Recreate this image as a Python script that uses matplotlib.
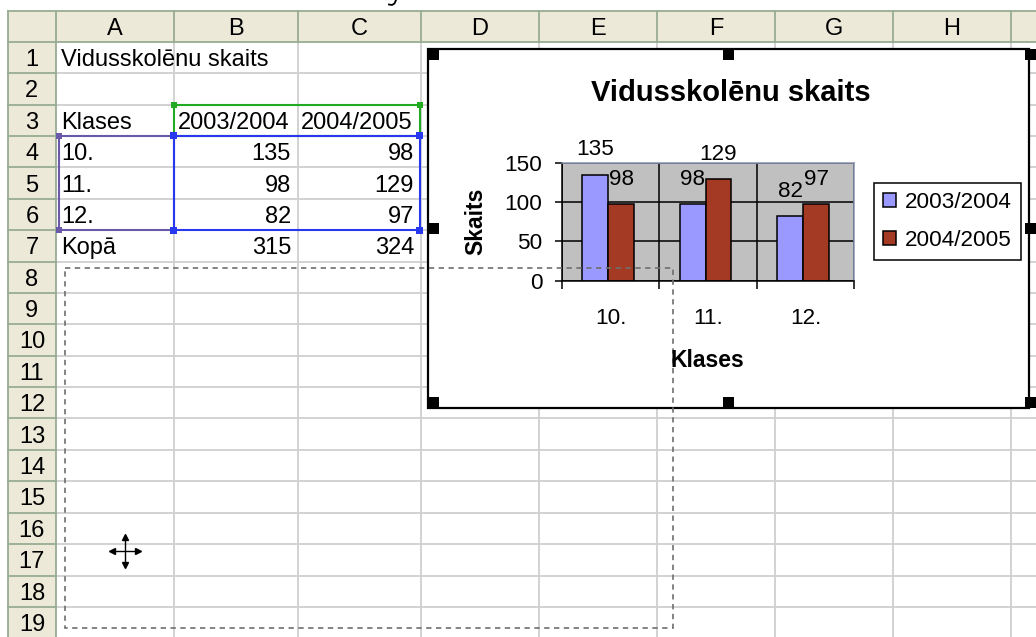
import numpy as np
import matplotlib.pyplot as plt
from matplotlib.patches import Rectangle

plt.rcParams['font.family'] = ['Liberation Sans', 'DejaVu Sans']

# data from the sheet
virsraksts = 'Vidusskolēnu skaits'
klases = ['10.', '11.', '12.']
gadi = ['2003/2004', '2004/2005']
skaits_2003 = [135, 98, 82]
skaits_2004 = [98, 129, 97]
kolonnas = ['A', 'B', 'C', 'D', 'E', 'F', 'G', 'H']

W, H = 1036, 637
fig = plt.figure(figsize=(W / 100, H / 100), dpi=100)

# background axes in pixel coords for the spreadsheet
bg = fig.add_axes([0, 0, 1, 1], zorder=0)
bg.set_xlim(0, W)
bg.set_ylim(H, 0)
bg.axis('off')

x0, hx = 8, 55.8
col_x = [55.8, 174, 297.5, 420.5, 539, 657, 775, 893, 1011, 1130]
top, head_b, rh = 10.7, 41.7, 31.4
n_rows = 19
grid_c = '#CFCFCF'
head_fill = '#ECE9D8'
head_line = '#98AC94'
fs_cell = 17


def row_y(r):
    return head_b + (r - 0.5) * rh


# cell grid
for x in col_x[1:]:
    bg.plot([x, x], [head_b, H], color=grid_c, lw=1.3, zorder=1)
for i in range(1, n_rows + 1):
    y = head_b + i * rh
    bg.plot([hx, W], [y, y], color=grid_c, lw=1.3, zorder=1)

# headers
bg.add_patch(Rectangle((x0, top), W - x0, head_b - top, fc=head_fill, ec='none', zorder=2))
bg.add_patch(Rectangle((x0, head_b), hx - x0, H - head_b, fc=head_fill, ec='none', zorder=2))
bg.plot([x0, W], [top, top], color=head_line, lw=1.3, zorder=3)
bg.plot([x0, W], [head_b, head_b], color=head_line, lw=1.3, zorder=3)
bg.plot([x0, x0], [top, H], color=head_line, lw=1.3, zorder=3)
bg.plot([hx, hx], [top, H], color=head_line, lw=1.3, zorder=3)
for x in col_x[1:]:
    bg.plot([x, x], [top, head_b], color=head_line, lw=1.3, zorder=3)
for i in range(1, n_rows + 1):
    y = head_b + i * rh
    bg.plot([x0, hx], [y, y], color=head_line, lw=1.3, zorder=3)

for i, k in enumerate(kolonnas):
    bg.text((col_x[i] + col_x[i + 1]) / 2, (top + head_b) / 2, k,
            ha='center', va='center_baseline', fontsize=fs_cell, zorder=4)
for r in range(1, n_rows + 1):
    bg.text((x0 + hx) / 2, row_y(r), str(r), ha='center', va='center_baseline',
            fontsize=fs_cell, zorder=4)

# tail of a glyph cut off above the screenshot
bg.plot([396, 394.5, 392, 389], [0, 3.5, 5, 4.5], color='black', lw=1.3)

# cell contents
txt = dict(va='center_baseline', fontsize=fs_cell, zorder=4)
bg.text(61, row_y(1), virsraksts, ha='left', **txt)
bg.text(61, row_y(3), 'Klases', ha='left', **txt)
bg.text(178, row_y(3), gadi[0], ha='left', **txt)
bg.text(301, row_y(3), gadi[1], ha='left', **txt)
for i, k in enumerate(klases):
    bg.text(61, row_y(4 + i), k, ha='left', **txt)
    bg.text(291, row_y(4 + i), str(skaits_2003[i]), ha='right', **txt)
    bg.text(414, row_y(4 + i), str(skaits_2004[i]), ha='right', **txt)
bg.text(61, row_y(7), 'Kopā', ha='left', **txt)
bg.text(291, row_y(7), str(sum(skaits_2003)), ha='right', **txt)
bg.text(414, row_y(7), str(sum(skaits_2004)), ha='right', **txt)


# range selection outlines
def selection(x1, y1, x2, y2, c, corners, hs):
    bg.add_patch(Rectangle((x1, y1), x2 - x1, y2 - y1, fill=False, ec=c, lw=1.5, zorder=5))
    for cx, cy in corners:
        bg.add_patch(Rectangle((cx - hs / 2, cy - hs / 2), hs, hs, fc=c, ec='none', zorder=6))


y3, y4, y7 = head_b + 2 * rh, head_b + 3 * rh, head_b + 6 * rh
selection(173.5, y3, 419.5, y4, '#22AA22', [(173.5, y3), (419.5, y3)], 6)
selection(58.5, y4, 173.5, y7, '#6A58A8', [(58.5, y4), (58.5, y7)], 6)
selection(173.5, y4, 419.5, y7, '#2838EE',
          [(173.5, y4), (419.5, y4), (173.5, y7), (419.5, y7)], 7)

# chart object frame and handles
cx1, cy1, cx2, cy2 = 428, 48.5, 1029, 407.5
bg.add_patch(Rectangle((cx1, cy1), cx2 - cx1, cy2 - cy1, fc='white', ec='black', lw=1.6, zorder=10))
hsz = 11
for hxp in [cx1, (cx1 + cx2) / 2 - hsz / 2, 1025]:
    for hyp in [cy1, (cy1 + cy2) / 2 - hsz / 2, cy2 - hsz]:
        if hxp == (cx1 + cx2) / 2 - hsz / 2 and hyp != cy1 and hyp != cy2 - hsz:
            continue
        bg.add_patch(Rectangle((hxp, hyp), hsz, hsz, fc='black', ec='none', zorder=11))

# move cursor
mx, my = 125, 550.7
bg.plot([mx - 13, mx + 13], [my, my], color='black', lw=1, zorder=12)
bg.plot([mx, mx], [my - 14, my + 14], color='black', lw=1, zorder=12)
bg.plot([mx - 13], [my], marker='<', ms=5, color='black', zorder=12)
bg.plot([mx + 13], [my], marker='>', ms=5, color='black', zorder=12)
bg.plot([mx], [my - 14], marker='^', ms=5, color='black', zorder=12)
bg.plot([mx], [my + 14], marker='v', ms=5, color='black', zorder=12)

# the chart itself
pl, pr, pt, pb = 561.7, 854.3, 162.7, 280.7
ax = fig.add_axes([pl / W, 1 - pb / H, (pr - pl) / W, (pb - pt) / H], zorder=1)
ax.set_facecolor('#C0C0C0')
x = np.arange(len(klases))
bw = 0.265
b1 = ax.bar(x - 0.157, skaits_2003, bw, color='#9999FF', edgecolor='black', lw=1.1, label=gadi[0])
b2 = ax.bar(x + 0.108, skaits_2004, bw, color='#A53A24', edgecolor='black', lw=1.1, label=gadi[1])
for bars in (b1, b2):
    for rect in bars:
        v = rect.get_height()
        ax.annotate(str(int(v)), (rect.get_x() + rect.get_width() / 2, v),
                    xytext=(0, 19.5), textcoords='offset points',
                    ha='center', va='center_baseline', fontsize=16.2)

ax.set_xlim(-0.5, 2.5)
ax.set_ylim(0, 150)
ax.set_yticks([0, 50, 100, 150])
ax.set_xticks([-0.5, 0.5, 1.5, 2.5])
ax.set_xticklabels([])
ax.set_xticks(x, minor=True)
ax.set_xticklabels(klases, minor=True)
ax.tick_params(axis='x', which='major', direction='out', length=5.4, width=1.1)
ax.tick_params(axis='x', which='minor', length=0, pad=20, labelsize=16.2)
ax.tick_params(axis='y', direction='out', length=5.4, width=1.1, pad=8.5, labelsize=16.2)
ax.grid(True, which='major', color='black', lw=1.1)
ax.set_axisbelow(True)
for s in ['left', 'bottom']:
    ax.spines[s].set_color('black')
    ax.spines[s].set_linewidth(1.1)
for s in ['top', 'right']:
    ax.spines[s].set_color('#8A94B4')
    ax.spines[s].set_linewidth(1.1)

fig.text(731 / W, 1 - 90 / H, virsraksts, ha='center', va='center_baseline',
         fontsize=21, fontweight='bold')
fig.text(707 / W, 1 - 358 / H, 'Klases', ha='center', va='center_baseline',
         fontsize=16.5, fontweight='bold')
fig.text(476 / W, 1 - 221.7 / H, 'Skaits', ha='center', va='center', rotation=90,
         fontsize=16.5, fontweight='bold')

leg = ax.legend(loc='upper left', bbox_to_anchor=(874 / W, 1 - 182.7 / H),
                bbox_transform=fig.transFigure, borderaxespad=0, fontsize=16.2,
                fancybox=False, framealpha=1, edgecolor='black',
                handlelength=0.56, handleheight=0.6, handletextpad=0.4,
                labelspacing=0.75, borderpad=0.42)
leg.get_frame().set_linewidth(1.1)

# dashed move outline drawn on top of everything
ov = fig.add_axes([0, 0, 1, 1], zorder=2)
ov.set_xlim(0, W)
ov.set_ylim(H, 0)
ov.axis('off')
ov.add_patch(Rectangle((65, 268), 608, 360, fill=False, ec='#6E6E6E', lw=1.2,
                       linestyle=(0, (3.2, 2.7))))

fig.savefig('out.png', dpi=100)
